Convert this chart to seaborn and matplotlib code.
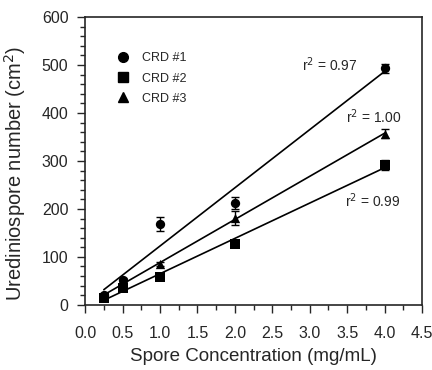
import numpy as np
import pandas as pd
import matplotlib
matplotlib.use('Agg')
import matplotlib.pyplot as plt
from matplotlib.ticker import MultipleLocator
import seaborn as sns

# 데이터
conc = [0.25, 0.5, 1.0, 2.0, 4.0]
crd1 = [21, 52, 169, 212, 493]
crd2 = [14, 35, 59, 127, 292]
crd3 = [20, 45, 85, 181, 357]
crd1_err = [4, 5, 14, 12, 10]
crd2_err = [3, 4, 5, 6, 10]
crd3_err = [3, 4, 5, 14, 10]
labels = ['CRD #1', 'CRD #2', 'CRD #3']
r2_text = ['0.97', '0.99', '1.00']
r2_pos = [(2.89, 487), (3.47, 204), (3.48, 379)]

df = pd.DataFrame({
    'conc': conc * 3,
    'count': crd1 + crd2 + crd3,
    'err': crd1_err + crd2_err + crd3_err,
    'group': np.repeat(labels, len(conc)),
})

sns.set_style('ticks')
plt.rcParams['font.family'] = ['Liberation Sans', 'DejaVu Sans']

fig = plt.figure(figsize=(4.32, 3.70), dpi=100)
ax = fig.add_axes([0.197, 0.176, 0.780, 0.778])

markers = {'CRD #1': 'o', 'CRD #2': 's', 'CRD #3': '^'}
for name in labels:
    sub = df[df['group'] == name]
    ax.errorbar(sub['conc'], sub['count'], yerr=sub['err'], fmt='none',
                ecolor='black', elinewidth=1, capsize=3, capthick=1)
    sns.regplot(data=sub, x='conc', y='count', ax=ax, ci=None, truncate=True,
                marker=markers[name], color='black',
                scatter_kws={'s': 45, 'linewidths': 0, 'alpha': 1},
                line_kws={'linewidth': 1.2})

# 범례
for name in labels:
    ax.plot([], [], linestyle='none', marker=markers[name], color='black',
            markersize=7, label=name)
ax.legend(loc='upper left', bbox_to_anchor=(0.041, 0.916), frameon=False,
          fontsize=9, handletextpad=0.55, labelspacing=0.65)

for t, (px, py) in zip(r2_text, r2_pos):
    ax.text(px, py, f'r$^2$ = {t}', fontsize=10, va='baseline', ha='left')

ax.set_xlim(0, 4.5)
ax.set_ylim(0, 600)
ax.xaxis.set_major_locator(MultipleLocator(0.5))
ax.xaxis.set_minor_locator(MultipleLocator(0.25))
ax.yaxis.set_major_locator(MultipleLocator(100))
ax.yaxis.set_minor_locator(MultipleLocator(20))
ax.xaxis.set_major_formatter(matplotlib.ticker.FormatStrFormatter('%.1f'))
ax.tick_params(which='major', length=6, width=1, labelsize=11.5, direction='out')
ax.tick_params(which='minor', length=3.5, width=1, direction='out')
ax.tick_params(axis='x', which='major', pad=9)
ax.tick_params(axis='y', which='major', pad=6)
for s in ax.spines.values():
    s.set_linewidth(1.2)
    s.set_visible(True)

ax.set_xlabel('Spore Concentration (mg/mL)', fontsize=13.5, labelpad=5)
ax.set_ylabel('Urediniospore number (cm$^2$)', fontsize=14.5)
ax.yaxis.set_label_coords(-0.168, 0.458)

fig.savefig('out.png', dpi=100)
